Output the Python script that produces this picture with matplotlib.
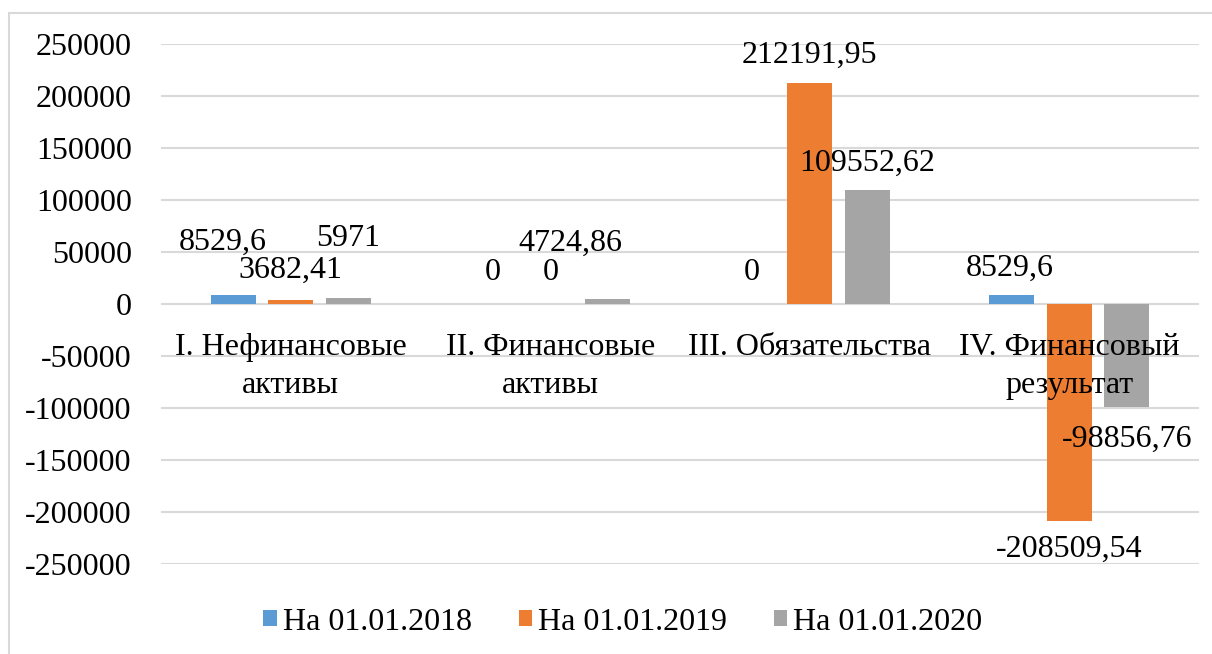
import matplotlib.pyplot as plt
from matplotlib.patches import Rectangle
import numpy as np

# Структура баланса по разделам, три отчетные даты
CATEGORIES = ["I. Нефинансовые\nактивы", "II. Финансовые\nактивы",
              "III. Обязательства", "IV. Финансовый\nрезультат"]
SERIES     = ["На 01.01.2018", "На 01.01.2019", "На 01.01.2020"]
V_2018     = [8529.6, 0, 0, 8529.6]
V_2019     = [3682.41, 0, 212191.95, -208509.54]
V_2020     = [5971, 4724.86, 109552.62, -98856.76]
LABELS_2018 = ["8529,6", "0", "0", "8529,6"]
LABELS_2019 = ["3682,41", "0", "212191,95", "-208509,54"]
LABELS_2020 = ["5971", "4724,86", "109552,62", "-98856,76"]
Y_TICKS    = [-250000, -200000, -150000, -100000, -50000, 0,
              50000, 100000, 150000, 200000, 250000]

COLORS = ["#5B9BD5", "#ED7D31", "#A5A5A5"]
# label offsets (dx, dy) in pixels relative to the bar end
OFFSETS = [
    [(-10, 53), (0, 31), (0, 31), (-2, 27)],
    [(0, 30), (0, 31), (0, 28), (0, -28)],
    [(0, 59), (-37, 56), (0, 27), (0, -33)],
]

plt.rcParams["font.family"] = ["Liberation Serif", "DejaVu Serif"]
FS = 23

fig = plt.figure(figsize=(12.12, 6.54), dpi=100)
ax = fig.add_axes([161 / 1212, 90 / 654, 1038 / 1212, 520 / 654])

x = np.arange(len(CATEGORIES))
width = 0.173
step = 0.222
all_vals = [V_2018, V_2019, V_2020]
all_labels = [LABELS_2018, LABELS_2019, LABELS_2020]

for k, (vals, labs) in enumerate(zip(all_vals, all_labels)):
    xs = x + (k - 1) * step
    ax.bar(xs, vals, width, color=COLORS[k], label=SERIES[k], zorder=3)
    for i, (xi, v, t) in enumerate(zip(xs, vals, labs)):
        dx, dy = OFFSETS[k][i]
        ax.annotate(t, xy=(xi, v), xytext=(dx * 0.72, dy * 0.72),
                    textcoords="offset points", ha="center", va="center",
                    fontsize=FS, zorder=5)

for i, name in enumerate(CATEGORIES):
    ax.annotate(name, xy=(i, 0), xytext=(0, -21),
                textcoords="offset points", ha="center", va="top",
                fontsize=FS, linespacing=1.38, zorder=4)

ax.set_xlim(-0.5, len(CATEGORIES) - 0.5)
ax.set_ylim(-250000, 250000)
ax.set_yticks(Y_TICKS)
ax.set_yticklabels([str(t) for t in Y_TICKS], fontsize=FS)
ax.set_xticks([])
ax.tick_params(axis="y", length=0, pad=21)
ax.grid(axis="y", color="#D9D9D9", linewidth=1.5, zorder=0)
for s in ax.spines.values():
    s.set_visible(False)

handles, labels = ax.get_legend_handles_labels()
fig.legend(handles, labels, loc="center", bbox_to_anchor=(0.514, 32 / 654),
           ncol=3, frameon=False, fontsize=FS, handlelength=0.42,
           handleheight=0.42, handletextpad=0.2, columnspacing=1.45)

fig.patches.append(Rectangle((9 / 1212, -0.05), 1.1, (654 - 13) / 654 + 0.05,
                             transform=fig.transFigure, fill=False,
                             edgecolor="#D9D9D9", linewidth=1.5))

fig.savefig("out.png", dpi=100)
